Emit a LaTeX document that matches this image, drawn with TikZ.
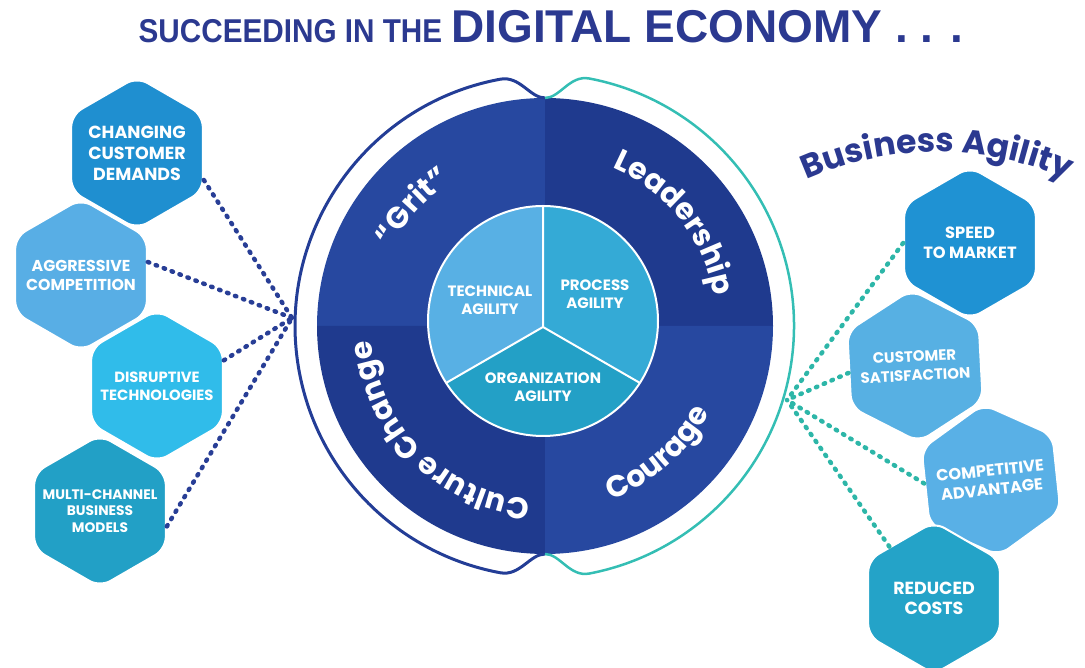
\documentclass[tikz,border=0pt]{standalone}
\usepackage{fontspec}
\setmainfont{Poppins}
\newfontfamily\titlefont{Liberation Sans}
\usetikzlibrary{shapes.geometric,decorations.text}

\definecolor{titleblue}{RGB}{43,57,144}
\definecolor{quadA}{RGB}{39,72,160}
\definecolor{quadB}{RGB}{31,58,142}
\definecolor{ringblue}{RGB}{35,61,150}
\definecolor{ringteal}{RGB}{52,190,180}
\definecolor{techc}{RGB}{88,176,228}
\definecolor{procc}{RGB}{52,170,214}
\definecolor{orgac}{RGB}{35,160,198}
\definecolor{chgc}{RGB}{31,143,208}
\definecolor{aggc}{RGB}{88,174,229}
\definecolor{disc}{RGB}{48,188,234}
\definecolor{mulc}{RGB}{34,160,198}
\definecolor{spdc}{RGB}{31,146,211}
\definecolor{cusc}{RGB}{87,176,227}
\definecolor{cmpc}{RGB}{89,176,230}
\definecolor{redc}{RGB}{36,163,200}
\definecolor{dotblue}{RGB}{40,62,150}
\definecolor{dotteal}{RGB}{45,182,168}

\newcommand\arcfont{\color{white}\bfseries\fontsize{30}{30}\selectfont}
\newcommand\bafont{\color{titleblue}\bfseries\fontsize{33}{33}\selectfont}

\begin{document}
\begin{tikzpicture}[x=1pt,y=1pt,
  hexa/.style={regular polygon, regular polygon sides=6, regular polygon rotate=30,
    minimum size=152pt, inner sep=-40pt, rounded corners=12pt, draw=white,
    line width=2pt, text=white, align=center},
  hexsz/.style 2 args={font=\bfseries\fontsize{#1}{#2}\selectfont},
  inlab/.style={text=white, align=center, font=\bfseries\fontsize{15}{18}\selectfont},
  dotsl/.style={draw=dotblue, line width=4.5pt, line cap=round, dash pattern=on 1.5pt off 7pt},
  dotsr/.style={dotsl, draw=dotteal}]
\useasboundingbox (0,0) rectangle (1085,668);

% title
\node[anchor=base, text=titleblue, font=\titlefont\bfseries] (title) at (551,625)
  {{\fontsize{33}{33}\selectfont\scalebox{0.9}[1]{SUCCEEDING IN THE}\ }{\fontsize{46}{46}\selectfont DIGITAL ECONOMY . . .}};

% outer ring
\coordinate (c) at (545,342);
\fill[quadA] (c) -- ++(0,228) arc[start angle=90,end angle=180,radius=228] -- cycle;
\fill[quadB] (c) -- ++(228,0) arc[start angle=0,end angle=90,radius=228] -- cycle;
\fill[quadB] (c) -- ++(-228,0) arc[start angle=180,end angle=270,radius=228] -- cycle;
\fill[quadA] (c) -- ++(0,-228) arc[start angle=270,end angle=360,radius=228] -- cycle;

\draw[ringblue, line width=3pt] (545,570) .. controls (530,570) and (520,592.4) .. (500.3,588.8)
  arc[start angle=100.5,end angle=259.5,radius=251] .. controls (520,91.6) and (530,114) .. (545,114);
\draw[ringteal, line width=2.5pt] (545,570) .. controls (560,570) and (569.6,593.2) .. (589.2,589.5)
  arc[start angle=79.2,end angle=-79.2,radius=252] .. controls (569.6,90.8) and (560,114) .. (545,114);

% inner pie
\coordinate (y) at (543,341);
\begin{scope}
\clip (543,347) circle (115);
\fill[techc] (y) -- +(90:200) -- +(150:300) -- +(210:200) -- cycle;
\fill[procc] (y) -- +(90:200) -- +(30:300) -- +(-30:200) -- cycle;
\fill[orgac] (y) -- +(210:200) -- +(270:300) -- +(330:200) -- cycle;
\draw[white, line width=2pt] (y) -- +(90:200) (y) -- +(210:200) (y) -- +(330:200);
\end{scope}
\draw[white, line width=2pt] (543,347) circle (115);

\node[inlab] (tech) at (490,368) {TECHNICAL\\AGILITY};
\node[inlab] (proc) at (595,374) {PROCESS\\AGILITY};
\node[inlab] (orga) at (543,281) {ORGANIZATION\\AGILITY};

% ring words
\path[decorate, decoration={text along path, text align=center, text={|\arcfont|Leadership}}]
  (c) ++(74:172) arc[start angle=74,end angle=3,radius=172];
\path[decorate, decoration={text along path, text align=center, text={|\arcfont|“Grit”}}]
  (c) ++(165:172) arc[start angle=165,end angle=111,radius=172];
\path[decorate, decoration={text along path, text align=center, text={|\arcfont|Culture Change}}]
  (c) ++(-83:174) arc[start angle=-83,end angle=-187,radius=174];
\path[decorate, decoration={text along path, text align=center, text={|\arcfont|Courage}}]
  (c) ++(-86:186) arc[start angle=-86,end angle=-11,radius=186];
\path[decorate, decoration={text along path, text align=center, text={|\bafont|Business Agility}}]
  (937,197) ++(122:319) arc[start angle=122,end angle=58,radius=319];

% challenges
\node[hexa, fill=chgc, hexsz={17.5}{21}] (chg) at (137,515) {CHANGING\\CUSTOMER\\DEMANDS};
\node[hexa, fill=aggc, hexsz={15.8}{19}] (agg) at (81,393) {AGGRESSIVE\\COMPETITION};
\node[hexa, fill=disc, hexsz={14.8}{18}] (dis) at (157,282) {DISRUPTIVE\\TECHNOLOGIES};
\node[hexa, fill=mulc, hexsz={13.8}{16.5}] (mul) at (100,157) {MULTI-CHANNEL\\BUSINESS\\MODELS};

% outcomes
\node[hexa, fill=spdc, hexsz={16.3}{20}] (spd) at (970,425) {SPEED\\TO MARKET};
\node[hexa, fill=cusc, hexsz={15}{19}, rotate=3] (cus) at (915,302) {CUSTOMER\\SATISFACTION};
\node[hexa, fill=cmpc, hexsz={16.2}{19}, rotate=6] (cmp) at (991,188) {COMPETITIVE\\ADVANTAGE};
\node[hexa, fill=redc, hexsz={17.5}{20}] (red) at (934,70) {REDUCED\\COSTS};

\coordinate (lhub) at (292,350);
\coordinate (rhub) at (787,268);
\draw[dotsl] (chg.-22) -- (lhub);
\draw[dotsl] (agg.11) -- (lhub);
\draw[dotsl] (dis.21) -- (lhub);
\draw[dotsl] (mul.-13) -- (lhub);
\draw[dotsr] (spd.180) -- (rhub);
\draw[dotsr] (cus.183) -- (rhub);
\draw[dotsr] (cmp.177) -- (rhub);
\draw[dotsr] (red.131) -- (rhub);
\end{tikzpicture}
\end{document}
